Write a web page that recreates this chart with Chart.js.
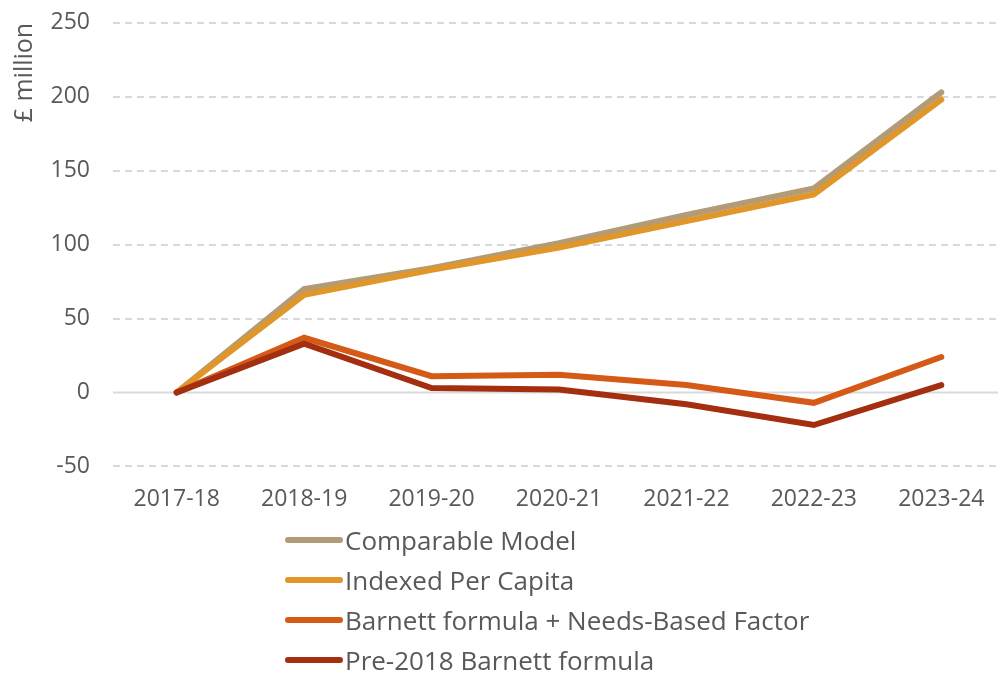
<!DOCTYPE html>
<html>
<head>
<meta charset="utf-8">
<script src="https://cdn.jsdelivr.net/npm/chart.js@4.4.1/dist/chart.umd.min.js"></script>
<style>
  html, body { margin: 0; padding: 0; background: #fff; overflow: hidden; }
  #wrap { position: relative; top: -14px; width: 1005px; height: 549px; }
  #legend { position: absolute; left: 285px; top: 520px; font-family: 'Open Sans', sans-serif; font-size: 26px; color: #595959; }
  #legend .item { height: 40px; display: flex; align-items: center; white-space: nowrap; }
  #legend .sw { width: 58px; height: 6px; border-radius: 3px; margin-right: 2px; }
</style>
</head>
<body>
<div id="wrap"><canvas id="lineChart"></canvas></div>
<div id="legend"></div>
<script>
const years = ['2017-18', '2018-19', '2019-20', '2020-21', '2021-22', '2022-23', '2023-24'];
const comparableModel = [0, 70, 84, 101, 120, 138, 203];
const indexedPerCapita = [0, 66, 83, 98, 116, 134, 198];
const barnettNeeds = [0, 37, 11, 12, 5, -7, 24];
const barnettPre2018 = [0, 33, 3, 2, -8, -22, 5];

const seriesNames = ['Comparable Model', 'Indexed Per Capita', 'Barnett formula + Needs-Based Factor', 'Pre-2018 Barnett formula'];
const seriesColors = ['#B39B78', '#E09628', '#D55A18', '#A32E10'];
const seriesData = [comparableModel, indexedPerCapita, barnettNeeds, barnettPre2018];

const textColor = '#595959';
const gridColor = '#D9D9D9';
const fontFamily = "'Open Sans', sans-serif";

// solid line at zero, the rest of the grid is dashed
const zeroLine = {
    id: 'zeroLine',
    beforeDatasetsDraw(chart) {
        const y = chart.scales.y.getPixelForValue(0);
        const ctx = chart.ctx;
        ctx.save();
        ctx.strokeStyle = gridColor;
        ctx.lineWidth = 2;
        ctx.beginPath();
        ctx.moveTo(chart.chartArea.left, y);
        ctx.lineTo(chart.chartArea.right, y);
        ctx.stroke();
        ctx.restore();
    }
};

const ctx = document.getElementById('lineChart').getContext('2d');
const lineChart = new Chart(ctx, {
    type: 'line',
    data: {
        labels: years,
        datasets: seriesData.map((d, i) => ({
            label: seriesNames[i],
            data: d,
            borderColor: seriesColors[i],
            backgroundColor: seriesColors[i],
            borderWidth: 6,
            borderCapStyle: 'round',
            pointRadius: 0,
            tension: 0,
            fill: false,
            order: 4 - i
        }))
    },
    options: {
        responsive: true,
        maintainAspectRatio: false,
        animation: false,
        layout: { padding: { top: 0, bottom: 3, left: 0, right: 0 } },
        plugins: {
            legend: { display: false },
            tooltip: { enabled: false }
        },
        scales: {
            x: {
                offset: true,
                grid: { display: false, drawTicks: false },
                border: { display: false },
                ticks: { color: textColor, padding: 19, font: { family: fontFamily, size: 23 } }
            },
            y: {
                min: -50,
                max: 250,
                afterFit(scale) { scale.width = 113; },
                grid: {
                    color: ctx => ctx.tick.value === 0 ? 'rgba(0,0,0,0)' : gridColor,
                    lineWidth: 2,
                    drawTicks: false
                },
                border: { display: false, dash: [7, 5] },
                ticks: { stepSize: 50, color: textColor, padding: 23, font: { family: fontFamily, size: 23 } },
                title: {
                    display: true,
                    text: '£ million',
                    align: 'end',
                    color: textColor,
                    padding: { top: 10, bottom: 0 },
                    font: { family: fontFamily, size: 25 }
                }
            }
        }
    },
    plugins: [zeroLine]
});

// legend below, one entry per row
const legendEl = document.getElementById('legend');
seriesNames.forEach((name, i) => {
    const row = document.createElement('div');
    row.className = 'item';
    const sw = document.createElement('span');
    sw.className = 'sw';
    sw.style.background = seriesColors[i];
    const label = document.createElement('span');
    label.textContent = name;
    row.appendChild(sw);
    row.appendChild(label);
    legendEl.appendChild(row);
});
</script>
</body>
</html>
